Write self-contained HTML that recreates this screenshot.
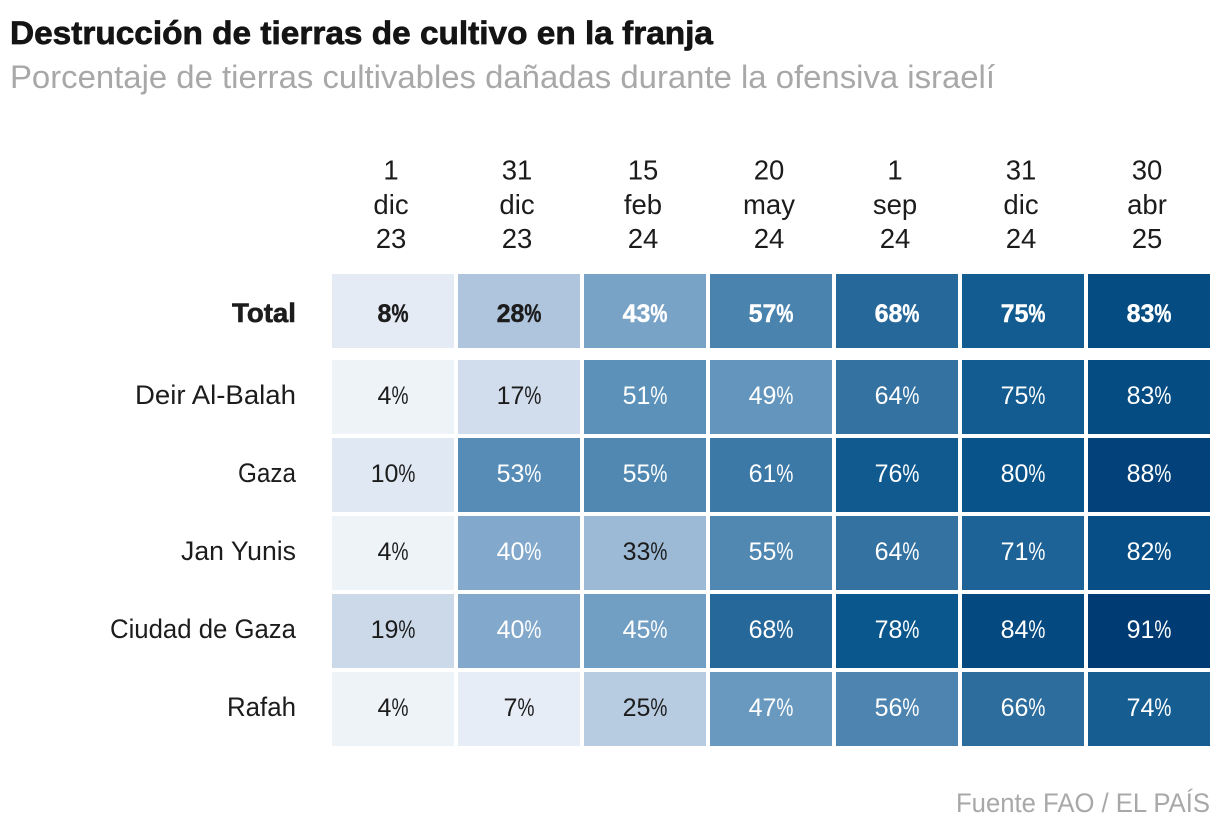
<!DOCTYPE html>
<html lang="es">
<head>
<meta charset="utf-8">
<title>Destrucción de tierras de cultivo en la franja</title>
<style>
html,body{margin:0;padding:0;background:#fff;width:1220px;height:832px;overflow:hidden}
svg{display:block}
text{font-family:"Liberation Sans",Arial,sans-serif}
</style>
</head>
<body>
<svg id="chart" width="1220" height="832" viewBox="0 0 1220 832" xmlns="http://www.w3.org/2000/svg">
  <rect width="1220" height="832" fill="#fff"/>
  <text x="10" y="44" font-size="32" font-weight="700" fill="#141414" stroke="#141414" stroke-width="0.7" textLength="703" lengthAdjust="spacingAndGlyphs">Destrucción de tierras de cultivo en la franja</text>
  <text x="10" y="88" font-size="32" fill="#a8a8a8" textLength="985" lengthAdjust="spacingAndGlyphs">Porcentaje de tierras cultivables dañadas durante la ofensiva israelí</text>
  <text x="1210" y="812" font-size="27" fill="#a8a8a8" text-anchor="end" textLength="254" lengthAdjust="spacingAndGlyphs">Fuente FAO / EL PAÍS</text>
  <g id="columns"></g>
  <g font-size="27" fill="#1c1c1c" text-anchor="end">
    <text x="296" y="322" font-weight="700" stroke="#1c1c1c" stroke-width="0.6" textLength="64" lengthAdjust="spacingAndGlyphs">Total</text>
    <text x="296" y="404" textLength="161" lengthAdjust="spacingAndGlyphs">Deir Al-Balah</text>
    <text x="296" y="482" textLength="58" lengthAdjust="spacingAndGlyphs">Gaza</text>
    <text x="296" y="560" textLength="115" lengthAdjust="spacingAndGlyphs">Jan Yunis</text>
    <text x="296" y="638" textLength="186" lengthAdjust="spacingAndGlyphs">Ciudad de Gaza</text>
    <text x="296" y="716" textLength="69" lengthAdjust="spacingAndGlyphs">Rafah</text>
  </g>
  <g id="cells"></g>
</svg>
<script>
const columnDays = ['1','31','15','20','1','31','30'];
const columnMonths = ['dic','dic','feb','may','sep','dic','abr'];
const columnYears = ['23','23','24','24','24','24','25'];
const valuesTotal = [8,28,43,57,68,75,83];
const valuesDeir = [4,17,51,49,64,75,83];
const valuesGaza = [10,53,55,61,76,80,88];
const valuesJan = [4,40,33,55,64,71,82];
const valuesCiudad = [19,40,45,68,78,84,91];
const valuesRafah = [4,7,25,47,56,66,74];
const seriesValues = [valuesTotal,valuesDeir,valuesGaza,valuesJan,valuesCiudad,valuesRafah];

const SVGNS = 'http://www.w3.org/2000/svg';
const colorDomain = [4,8,17,28,40,51,57,67,78,84,91];
const colorRange = [[238,243,248],[228,235,245],[209,221,236],[174,197,221],[130,168,203],[92,145,186],[74,131,174],[42,106,156],[10,87,141],[4,74,129],[0,59,115]];

function xScale(i){return 332 + i*126;}
function yScale(r){return r===0 ? 274 : 360 + (r-1)*78;}
const cellW = 122, cellH = 74;

function colorScale(v){
  let i = 0;
  while(i < colorDomain.length-2 && v > colorDomain[i+1]) i++;
  const t = Math.max(0, Math.min(1, (v-colorDomain[i])/(colorDomain[i+1]-colorDomain[i])));
  const c = colorRange[i].map((a,k)=>Math.round(a+(colorRange[i+1][k]-a)*t));
  return 'rgb('+c.join(',')+')';
}
function svgText(parent,x,y,size,anchor,fill,str){
  const t = document.createElementNS(SVGNS,'text');
  t.setAttribute('x',x);
  t.setAttribute('y',y);
  t.setAttribute('font-size',size);
  t.setAttribute('text-anchor',anchor);
  t.setAttribute('fill',fill);
  t.textContent = str;
  parent.appendChild(t);
  return t;
}

const colGroup = document.getElementById('columns');
columnDays.forEach((d,i)=>{
  const cx = xScale(i)+cellW/2-2;
  const a = svgText(colGroup,cx,179.5,27.5,'middle','#1c1c1c',d);
  
  
  const b = svgText(colGroup,cx,214,27.5,'middle','#1c1c1c',columnMonths[i]);
  
  
  const c = svgText(colGroup,cx,248,27.5,'middle','#1c1c1c',columnYears[i]);
  
  
});

const cellGroup = document.getElementById('cells');
seriesValues.forEach((series,r)=>{
  const y = yScale(r);
  const bold = r===0;
  series.forEach((v,i)=>{
    const rect = document.createElementNS(SVGNS,'rect');
    rect.setAttribute('x',xScale(i));
    rect.setAttribute('y',y);
    rect.setAttribute('width',cellW);
    rect.setAttribute('height',cellH);
    rect.setAttribute('fill',colorScale(v));
    
    
    cellGroup.appendChild(rect);
    const t = svgText(cellGroup,xScale(i)+cellW/2,y+(bold?48:44),25,'middle',v>=40?'#ffffff':'#1c1c1c',String(v));
    
    
    const pct = document.createElementNS(SVGNS,'tspan');
    pct.setAttribute('textLength','17');
    pct.setAttribute('lengthAdjust','spacingAndGlyphs');
    pct.textContent = '%';
    t.appendChild(pct);
    if(bold){
      t.setAttribute('font-weight','700');
      t.setAttribute('stroke',v>=40?'#ffffff':'#1c1c1c');
      t.setAttribute('stroke-width','0.4');
    }
  });
});
</script>
</body>
</html>
